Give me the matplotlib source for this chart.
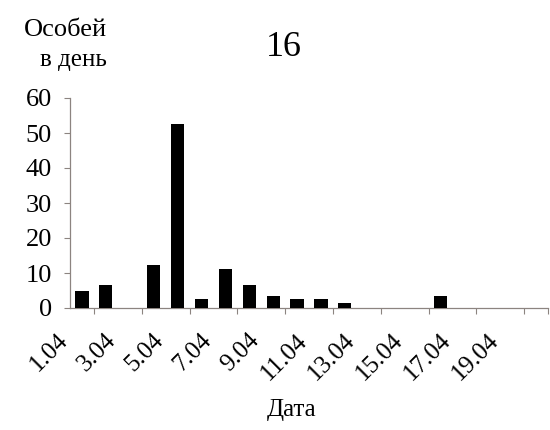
import matplotlib
matplotlib.use("Agg")
import matplotlib.pyplot as plt
import matplotlib.transforms as mtransforms
import numpy as np

plt.rcParams['font.family'] = ['Liberation Serif', 'DejaVu Serif']

# Daily counts, 1.04 .. 20.04
days = list(range(1, 21))
counts = [4.8, 6.7, 0, 12.4, 52.6, 2.6, 11.2, 6.7, 3.5, 2.6,
          2.6, 1.4, 0, 0, 0, 3.5, 0, 0, 0, 0]
tick_days = [1, 3, 5, 7, 9, 11, 13, 15, 17, 19]
tick_labels = [f"{d}.04" for d in tick_days]
y_ticks = [0, 10, 20, 30, 40, 50, 60]

axis_color = '#8c8480'

fig = plt.figure(figsize=(5.5, 4.3), dpi=100)
ax = fig.add_axes([70/550, 1 - 308/430, (548-70)/550, (308-98)/430])

x = np.arange(len(days))
ax.bar(x, counts, width=0.55, color='black', zorder=3)

# category boundary tick marks
ax.set_xticks(np.arange(-0.5, len(days), 1.0), minor=True)
ax.tick_params(axis='x', which='minor', length=4, color=axis_color, width=0.8)
# slanted labels end at the left edge of their category
ax.set_xticks([d - 1 - 0.5 for d in tick_days])
ax.set_xticklabels(tick_labels, rotation=45, ha='right', va='center',
                   rotation_mode='anchor', fontsize=18)
ax.tick_params(axis='x', which='major', length=0, pad=21)
shift = mtransforms.ScaledTranslation(-0.05, 0, fig.dpi_scale_trans)
for lbl in ax.xaxis.get_majorticklabels():
    lbl.set_transform(lbl.get_transform() + shift)

ax.set_yticks(y_ticks)
ax.set_yticklabels([str(v) for v in y_ticks], fontsize=19)
ax.tick_params(axis='y', length=4, color=axis_color, width=0.8, pad=9)

ax.set_xlim(-0.5, len(days) - 0.5)
ax.set_ylim(0, 60)

for s in ('top', 'right'):
    ax.spines[s].set_visible(False)
for s in ('left', 'bottom'):
    ax.spines[s].set_color(axis_color)
    ax.spines[s].set_linewidth(0.9)

fig.text(65/550, 1 - 30/430, 'Особей', ha='center', va='center', fontsize=19)
fig.text(73/550, 1 - 60/430, 'в день', ha='center', va='center', fontsize=18)
fig.text(284/550, 1 - 47/430, '16', ha='center', va='center', fontsize=26)
fig.text(292/550, 1 - 410/430, 'Дата', ha='center', va='center', fontsize=18)

fig.savefig('out.png', dpi=100, facecolor='white')
